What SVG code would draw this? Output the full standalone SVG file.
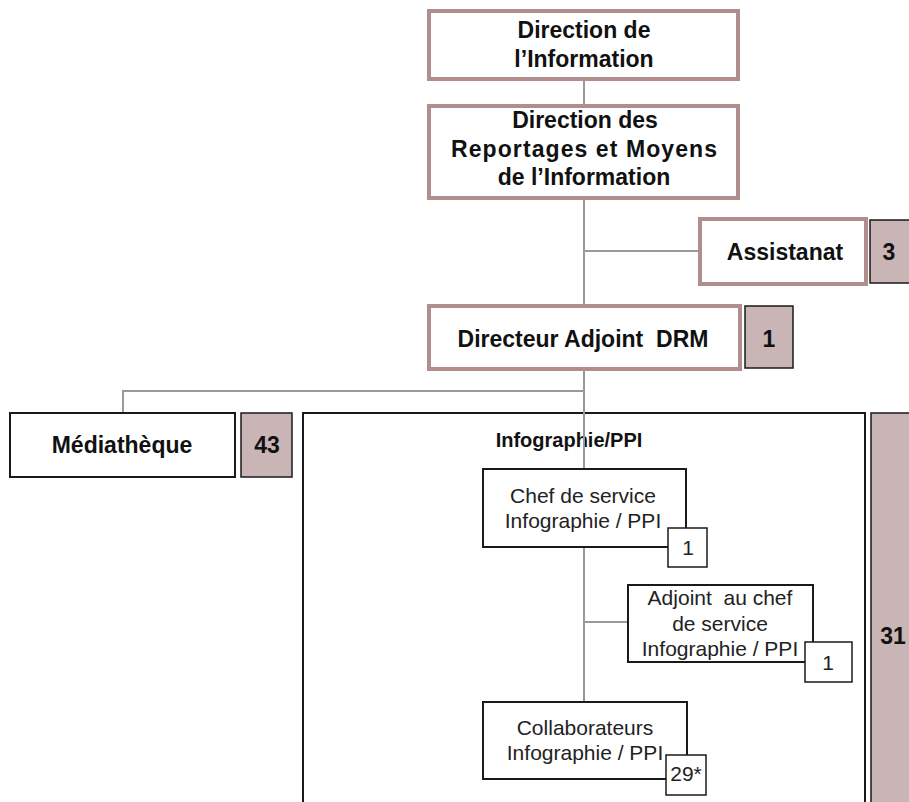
<svg xmlns="http://www.w3.org/2000/svg" width="909" height="802" viewBox="0 0 909 802">
  <style>
    .lead { fill: #ffffff; stroke: #b08e8e; stroke-width: 4; }
    .unit { fill: #ffffff; stroke: #1a1a1a; stroke-width: 2; }
    .count { fill: #c9b5b5; stroke: #1a1a1a; stroke-width: 1.5; }
    .tag { fill: #ffffff; stroke: #1a1a1a; stroke-width: 1.5; }
    .b { font-family: "Liberation Sans", Arial, sans-serif; font-weight: bold; font-size: 23px; fill: #111111; text-anchor: middle; }
    .t { font-family: "Liberation Sans", Arial, sans-serif; font-weight: bold; font-size: 20px; fill: #111111; text-anchor: middle; }
    .r { font-family: "Liberation Sans", Arial, sans-serif; font-size: 21px; fill: #222222; text-anchor: middle; }
    .links { fill: none; stroke: #9a9a9a; stroke-width: 2; }
  </style>

  <rect width="909" height="802" fill="#ffffff"/>

  <!-- Infographie / PPI department frame and its head-count -->
  <g id="infographie-ppi">
    <rect class="unit" x="303" y="413" width="562" height="400"/>
    <text class="t" x="569" y="447">Infographie/PPI</text>
    <rect class="count" x="871" y="413" width="50" height="400"/>
    <text class="b" x="893" y="644">31</text>
  </g>

  <!-- reporting lines -->
  <g id="connectors">
    <path class="links" d="M584 81 V104 M584 200 V304 M584 251 H698 M584 371 V469 M584 391 H123 V413 M584 547 V702 M584 622 H628"/>
  </g>

  <g id="direction-information">
    <rect class="lead" x="429" y="11" width="309" height="68"/>
    <text class="b" x="584" y="38">Direction de</text>
    <text class="b" x="584" y="67">l’Information</text>
  </g>

  <g id="direction-reportages">
    <rect class="lead" x="429" y="106" width="309" height="92"/>
    <text class="b" x="585" y="128">Direction des</text>
    <text class="b" x="584" y="157" textLength="266" lengthAdjust="spacing">Reportages et Moyens</text>
    <text class="b" x="584" y="185">de l’Information</text>
  </g>

  <g id="assistanat">
    <rect class="lead" x="700" y="219" width="166" height="65"/>
    <text class="b" x="785" y="260">Assistanat</text>
    <rect class="count" x="870" y="220" width="50" height="63"/>
    <text class="b" x="889" y="260">3</text>
  </g>

  <g id="directeur-adjoint">
    <rect class="lead" x="429" y="306" width="311" height="63"/>
    <text class="b" x="583" y="347" xml:space="preserve">Directeur Adjoint  DRM</text>
    <rect class="count" x="745" y="306" width="48" height="62"/>
    <text class="b" x="769" y="347">1</text>
  </g>

  <g id="mediatheque">
    <rect class="unit" x="10" y="413" width="225" height="64"/>
    <text class="b" x="122" y="453">Médiathèque</text>
    <rect class="count" x="241" y="413" width="51" height="64"/>
    <text class="b" x="267" y="453">43</text>
  </g>

  <g id="chef-service">
    <rect class="unit" x="483" y="469" width="203" height="78"/>
    <text class="r" x="583" y="503">Chef de service</text>
    <text class="r" x="583" y="528">Infographie / PPI</text>
    <rect class="tag" x="668" y="528" width="39" height="39"/>
    <text class="r" x="688" y="555">1</text>
  </g>

  <g id="adjoint-chef">
    <rect class="unit" x="628" y="585" width="185" height="77"/>
    <text class="r" x="720" y="605" xml:space="preserve">Adjoint  au chef</text>
    <text class="r" x="720" y="631">de service</text>
    <text class="r" x="720" y="656">Infographie / PPI</text>
    <rect class="tag" x="805" y="642" width="47" height="40"/>
    <text class="r" x="828" y="670">1</text>
  </g>

  <g id="collaborateurs">
    <rect class="unit" x="483" y="702" width="204" height="77"/>
    <text class="r" x="585" y="735">Collaborateurs</text>
    <text class="r" x="585" y="760">Infographie / PPI</text>
    <rect class="tag" x="666" y="755" width="40" height="40"/>
    <text class="r" x="686" y="781">29*</text>
  </g>
</svg>
